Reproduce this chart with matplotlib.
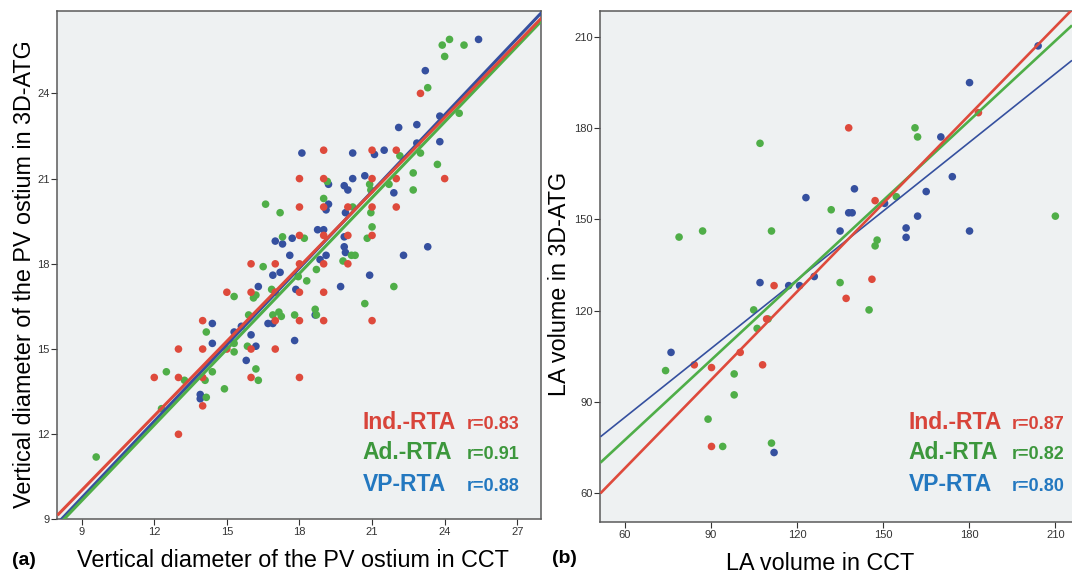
import numpy as np
import matplotlib.pyplot as plt

plt.rcParams['font.family'] = ['Liberation Sans', 'DejaVu Sans']

# ---- (a) vertical diameter of the PV ostium: CCT (x) vs 3D-ATG (y)
ind_pv_cct = [23, 19, 21, 22, 18, 19, 21, 22, 24, 18, 19, 20, 21, 22, 18, 19, 20, 21,
              16, 17, 18, 19, 20, 15, 16, 17, 18, 19, 14, 17, 18, 19, 21, 13, 14, 15,
              16, 17, 12, 13, 14, 16, 18, 14, 13]
ind_pv_atg = [24, 22, 22, 22, 21, 21, 21, 21, 21, 20, 20, 20, 20, 20, 19, 19, 19, 19,
              18, 18, 18, 18, 18, 17, 17, 17, 17, 17, 16, 16, 16, 16, 16, 15, 15, 15,
              15, 15, 14, 14, 14, 14, 14, 13, 12]

ad_pv_cct = [23.9, 24.2, 24.8, 24.0, 23.3, 24.6, 23.0, 23.7, 22.7, 22.7, 22.15, 20.9,
             20.95, 21.7, 19.15, 16.6, 17.2, 19.0, 20.2, 20.95, 18.2, 17.3, 20.8, 21.0,
             20.15, 20.3, 19.8, 16.5, 18.7, 17.95, 18.3, 21.9, 15.3, 16.85, 16.1, 16.2,
             20.7, 15.9, 16.9, 17.15, 17.25, 17.8, 18.65, 18.7, 14.15, 15.3, 15.3, 15.85,
             16.2, 16.3, 14.4, 14.1, 13.25, 12.5, 14.15, 14.9, 12.3, 9.6]
ad_pv_atg = [25.7, 25.9, 25.7, 25.3, 24.2, 23.3, 21.9, 21.5, 21.2, 20.6, 21.8, 20.8,
             20.6, 20.8, 20.9, 20.1, 19.8, 20.3, 20.0, 19.8, 18.9, 18.95, 18.9, 19.3,
             18.3, 18.3, 18.1, 17.9, 17.8, 17.55, 17.4, 17.2, 16.85, 17.1, 16.8, 16.9,
             16.6, 16.2, 16.2, 16.3, 16.15, 16.2, 16.4, 16.2, 15.6, 15.2, 14.9, 15.1,
             14.3, 13.9, 14.2, 13.9, 13.9, 14.2, 13.3, 13.6, 12.9, 11.2]

vp_pv_cct = [25.4, 23.2, 23.8, 22.1, 22.85, 23.8, 22.85, 21.5, 21.1, 20.2, 18.1, 20.7,
             20.2, 19.85, 20.0, 21.9, 19.2, 19.2, 19.1, 19.9, 18.75, 19.0, 17.0, 17.3,
             17.7, 19.85, 17.6, 19.85, 19.9, 19.1, 18.85, 22.3, 23.3, 16.9, 17.2, 20.9,
             16.3, 19.7, 17.85, 14.4, 15.3, 15.6, 16.0, 16.7, 16.9, 18.65, 14.4, 15.8,
             16.2, 17.8, 13.9, 13.9]
vp_pv_atg = [25.9, 24.8, 23.2, 22.8, 22.9, 22.3, 22.25, 22.0, 21.85, 21.9, 21.9, 21.1,
             21.0, 20.75, 20.6, 20.5, 20.8, 20.1, 19.9, 19.8, 19.2, 19.2, 18.8, 18.7,
             18.9, 18.95, 18.3, 18.6, 18.4, 18.3, 18.15, 18.3, 18.6, 17.6, 17.7, 17.6,
             17.2, 17.2, 17.1, 15.9, 15.6, 15.8, 15.5, 15.9, 15.9, 16.2, 15.2, 14.6,
             15.1, 15.3, 13.4, 13.25]

# fitted lines (slope, intercept): Ind., Ad., VP
pv_fit_slope = [0.875, 0.889, 0.899]
pv_fit_intercept = [2.15, 1.66, 1.67]

# ---- (b) LA volume: CCT (x) vs 3D-ATG (y)
ind_la_cct = [183.2, 138.0, 147.2, 112.0, 146.1, 137.1, 109.4, 100.2, 84.2, 90.2, 108.0, 90.2]
ind_la_atg = [185.2, 180.2, 156.2, 128.2, 130.3, 124.0, 117.2, 106.2, 102.1, 101.2, 102.1, 75.2]

ad_la_cct = [161.1, 162.0, 107.1, 154.6, 131.9, 210.0, 78.9, 87.1, 111.1, 147.9, 147.2,
             135.0, 104.9, 145.1, 109.9, 106.1, 74.2, 98.1, 98.1, 89.0, 94.1, 111.1]
ad_la_atg = [180.2, 177.2, 175.1, 157.5, 153.2, 151.1, 144.2, 146.2, 146.2, 143.2, 141.3,
             129.2, 120.2, 120.2, 117.2, 114.1, 100.2, 99.1, 92.2, 84.2, 75.2, 76.3]

vp_la_cct = [204.0, 180.1, 170.1, 174.1, 140.0, 165.0, 123.1, 150.5, 138.0, 139.2, 162.0,
             158.0, 158.0, 180.1, 135.0, 107.1, 117.1, 120.9, 126.0, 76.1, 112.0]
vp_la_atg = [207.2, 195.1, 177.2, 164.1, 160.1, 159.2, 157.2, 155.3, 152.2, 152.2, 151.1,
             147.2, 144.1, 146.2, 146.2, 129.2, 128.2, 128.2, 131.2, 106.2, 73.2]

# fitted lines (slope, intercept): Ind., Ad., VP
la_fit_slope = [0.970, 0.877, 0.755]
la_fit_intercept = [9.8, 24.7, 39.5]

methods = ['Ind.-RTA', 'Ad.-RTA', 'VP-RTA']
r_pv = ['r=0.83', 'r=0.91', 'r=0.88']
r_la = ['r=0.87', 'r=0.82', 'r=0.80']

dot_colors = {'Ind.-RTA': '#de4a3c', 'Ad.-RTA': '#4fae48', 'VP-RTA': '#35509f'}
text_colors = {'Ind.-RTA': '#d8443a', 'Ad.-RTA': '#3c973c', 'VP-RTA': '#2378c0'}
bg = '#eef1f2'
spine_col = '#5a5a5a'


def style_axes(ax, xticks, yticks, xlim, ylim):
    ax.set_facecolor(bg)
    ax.set_xlim(*xlim)
    ax.set_ylim(*ylim)
    ax.set_xticks(xticks)
    ax.set_yticks(yticks)
    ax.tick_params(direction='out', length=4, width=0.8, pad=1.5,
                   labelsize=8, colors='#333333')
    for sp in ax.spines.values():
        sp.set_color(spine_col)
        sp.set_linewidth(1.1)


def draw_panel(ax, data, slopes, intercepts, line_w, r_texts, legend_x, r_x, legend_y):
    # dots first, then the fit lines on top
    for name in ['VP-RTA', 'Ad.-RTA', 'Ind.-RTA']:
        x, y = data[name]
        ax.scatter(x, y, s=30, color=dot_colors[name], edgecolors='none', zorder=2)
    xs = np.array(ax.get_xlim())
    for i in [2, 1, 0]:
        name = methods[i]
        ax.plot(xs, slopes[i] * xs + intercepts[i], color=dot_colors[name],
                lw=line_w[i], zorder=3, solid_capstyle='butt')
    for i, name in enumerate(methods):
        ax.text(legend_x, legend_y[i], name, transform=ax.transAxes, fontsize=16.5,
                fontweight='bold', color=text_colors[name], va='baseline', zorder=5)
        ax.text(r_x, legend_y[i], r_texts[i], transform=ax.transAxes, fontsize=13,
                fontweight='bold', color=text_colors[name], va='baseline', zorder=5)


fig = plt.figure(figsize=(10.72, 5.76), dpi=100)

# panel (a)
ax1 = fig.add_axes([0.0536, 0.0981, 0.4515, 0.8828])
style_axes(ax1, [9, 12, 15, 18, 21, 24, 27], [9, 12, 15, 18, 21, 24], (8.0, 28.0), (9.0, 26.9))
draw_panel(ax1,
           {'Ind.-RTA': (ind_pv_cct, ind_pv_atg),
            'Ad.-RTA': (ad_pv_cct, ad_pv_atg),
            'VP-RTA': (vp_pv_cct, vp_pv_atg)},
           pv_fit_slope, pv_fit_intercept, [2.2, 2.2, 2.2],
           r_pv, 0.630, 0.845, [0.177, 0.118, 0.056])
ax1.text(0.487, -0.093, 'Vertical diameter of the PV ostium in CCT', transform=ax1.transAxes,
         fontsize=16.8, ha='center', va='baseline')
ax1.text(-0.055, 0.482, 'Vertical diameter of the PV ostium in 3D-ATG', transform=ax1.transAxes,
         fontsize=16.8, ha='center', va='baseline', rotation=90, rotation_mode='anchor')

# panel (b)
ax2 = fig.add_axes([0.5601, 0.0932, 0.4399, 0.8877])
style_axes(ax2, [60, 90, 120, 150, 180, 210], [60, 90, 120, 150, 180, 210],
           (51.5, 215.8), (50.2, 218.7))
ax2.spines['right'].set_visible(False)
draw_panel(ax2,
           {'Ind.-RTA': (ind_la_cct, ind_la_atg),
            'Ad.-RTA': (ad_la_cct, ad_la_atg),
            'VP-RTA': (vp_la_cct, vp_la_atg)},
           la_fit_slope, la_fit_intercept, [1.9, 1.9, 1.2],
           r_la, 0.653, 0.873, [0.1825, 0.124, 0.061])
ax2.text(0.465, -0.094, 'LA volume in CCT', transform=ax2.transAxes,
         fontsize=16.8, ha='center', va='baseline')
ax2.text(-0.072, 0.467, 'LA volume in 3D-ATG', transform=ax2.transAxes,
         fontsize=16.8, ha='center', va='baseline', rotation=90, rotation_mode='anchor')

fig.text(12 / 1072, 1 - 565 / 576, '(a)', fontsize=14, fontweight='bold', va='baseline')
fig.text(552 / 1072, 1 - 563 / 576, '(b)', fontsize=14, fontweight='bold', va='baseline')

fig.savefig('out.png', dpi=100)
